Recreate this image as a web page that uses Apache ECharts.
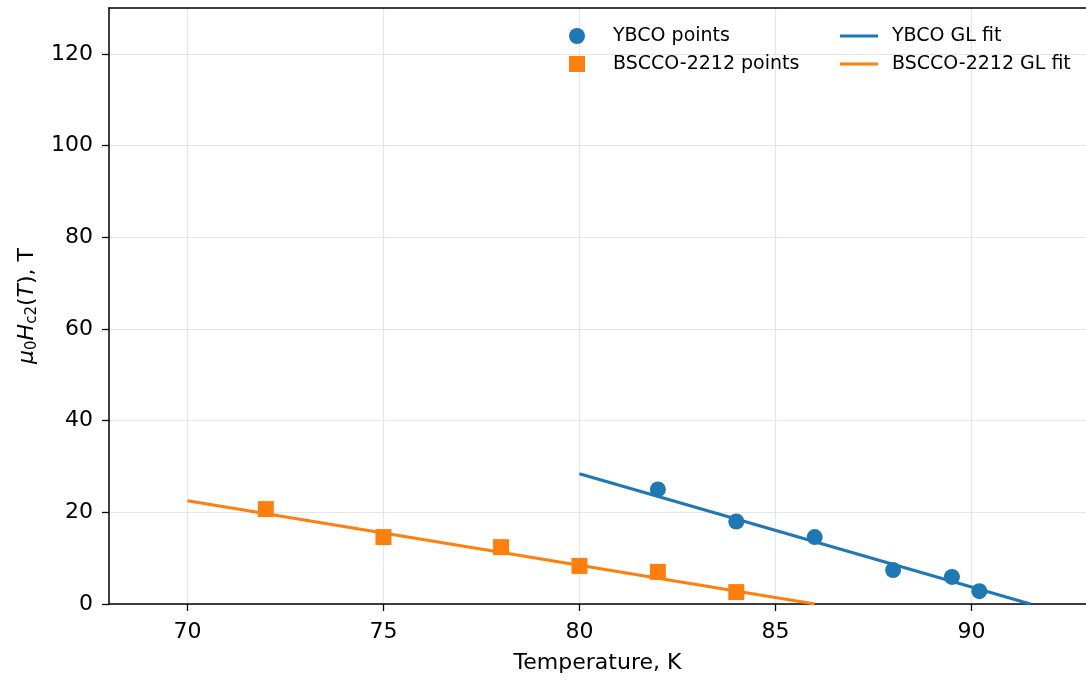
<!DOCTYPE html>
<html>
<head>
<meta charset="utf-8">
<script src="https://cdn.jsdelivr.net/npm/echarts@6/dist/echarts.min.js"></script>
<style>
html,body{margin:0;padding:0;background:#fff;}
#chart{width:1086px;height:680px;}
</style>
</head>
<body>
<div id="chart"></div>
<script>
// Data
const ybcoT = [82, 84, 86, 88, 89.5, 90.2];
const ybcoH = [25.0, 18.0, 14.6, 7.4, 5.9, 2.8];
const bsccoT = [72, 75, 78, 80, 82, 84];
const bsccoH = [20.7, 14.6, 12.4, 8.3, 7.0, 2.6];
const ybcoFitT = [80, 91.5];
const ybcoFitH = [28.4, 0];
const bsccoFitT = [70, 86];
const bsccoFitH = [22.5, 0];
const xTicks = [70, 75, 80, 85, 90];
const yTicks = [0, 20, 40, 60, 80, 100, 120];

const pair = (xs, ys) => xs.map((x, i) => [x, ys[i]]);
const FONT = 'DejaVu Sans';
const BLUE = '#1f77b4', ORANGE = '#ff7f0e';
const LINE_ICON = 'path://M0,0L0.05,0L0.05,0.05Z M0,6.5L38,6.5L38,9.5L0,9.5Z M37.95,16L38,16L38,15.95Z';

const chart = echarts.init(document.getElementById('chart'), null, {renderer: 'canvas'});
chart.setOption({
  animation: false,
  backgroundColor: '#fff',
  textStyle: {fontFamily: FONT},
  grid: {left: 109, top: 8, right: 0, bottom: 76, show: false},
  xAxis: [{
    type: 'value', min: 68, max: 92.92, splitNumber: 5,
    name: 'Temperature, K', nameLocation: 'middle', nameGap: 48,
    nameTextStyle: {fontFamily: FONT, fontSize: 22, color: '#000'},
    axisLine: {show: true, lineStyle: {color: '#000', width: 1.5}},
    axisTick: {show: true, length: 7, lineStyle: {color: '#000', width: 1.3},
      customValues: xTicks},
    axisLabel: {fontFamily: FONT, fontSize: 22, color: '#000', margin: 17,
      customValues: xTicks,
      formatter: v => xTicks.includes(v) ? String(v) : ''},
    splitLine: {show: true, lineStyle: {color: '#e6e6e6', width: 1.2}}
  }, {
    type: 'value', position: 'top', min: 68, max: 92.92,
    axisLine: {show: true, onZero: false, lineStyle: {color: '#000', width: 1.5}},
    axisTick: {show: false}, axisLabel: {show: false}, splitLine: {show: false}
  }],
  yAxis: {
    type: 'value', min: 0, max: 130, interval: 20,
    name: '{i|μ}{s|0}{i|H}{s|c2}({i|T}), T', nameLocation: 'middle', nameGap: 66, nameRotate: 90,
    nameTextStyle: {fontFamily: FONT, fontSize: 22, color: '#000', lineHeight: 26,
      rich: {
        i: {fontFamily: FONT, fontSize: 22, fontStyle: 'italic', color: '#000', lineHeight: 26},
        s: {fontFamily: FONT, fontSize: 15, color: '#000', lineHeight: 15, verticalAlign: 'bottom'}
      }},
    axisLine: {show: true, lineStyle: {color: '#000', width: 1.5}},
    axisTick: {show: true, length: 7, lineStyle: {color: '#000', width: 1.3}, customValues: yTicks},
    axisLabel: {fontFamily: FONT, fontSize: 22, color: '#000', margin: 16, customValues: yTicks,
      formatter: v => yTicks.includes(v) ? String(v) : ''},
    splitLine: {show: true, lineStyle: {color: '#e6e6e6', width: 1.2}}
  },
  legend: [
    {
      orient: 'vertical', left: 564, top: 21, itemWidth: 16, itemHeight: 16, itemGap: 8,
      data: ['YBCO points', 'BSCCO-2212 points'],
      textStyle: {fontFamily: FONT, fontSize: 19, color: '#000', lineHeight: 20, padding: [0, 0, 0, 23]}
    },
    {
      orient: 'vertical', left: 835, top: 21, itemWidth: 38, itemHeight: 16, itemGap: 8,
      itemStyle: {borderWidth: 0},
      data: [{name: 'YBCO GL fit', icon: LINE_ICON}, {name: 'BSCCO-2212 GL fit', icon: LINE_ICON}],
      textStyle: {fontFamily: FONT, fontSize: 19, color: '#000', lineHeight: 20, padding: [0, 0, 0, 9]}
    }
  ],
  series: [
    {name: 'YBCO GL fit', type: 'line', data: pair(ybcoFitT, ybcoFitH), symbol: 'none', z: 2,
      lineStyle: {color: BLUE, width: 3}, itemStyle: {color: BLUE}},
    {name: 'BSCCO-2212 GL fit', type: 'line', data: pair(bsccoFitT, bsccoFitH), symbol: 'none', z: 2,
      lineStyle: {color: ORANGE, width: 3}, itemStyle: {color: ORANGE}},
    {name: 'YBCO points', type: 'scatter', data: pair(ybcoT, ybcoH), symbol: 'circle', symbolSize: 16, z: 3,
      itemStyle: {color: BLUE, opacity: 1}},
    {name: 'BSCCO-2212 points', type: 'scatter', data: pair(bsccoT, bsccoH), symbol: 'rect', symbolSize: 16, z: 3,
      itemStyle: {color: ORANGE, opacity: 1}}
  ]
});
</script>
</body>
</html>
